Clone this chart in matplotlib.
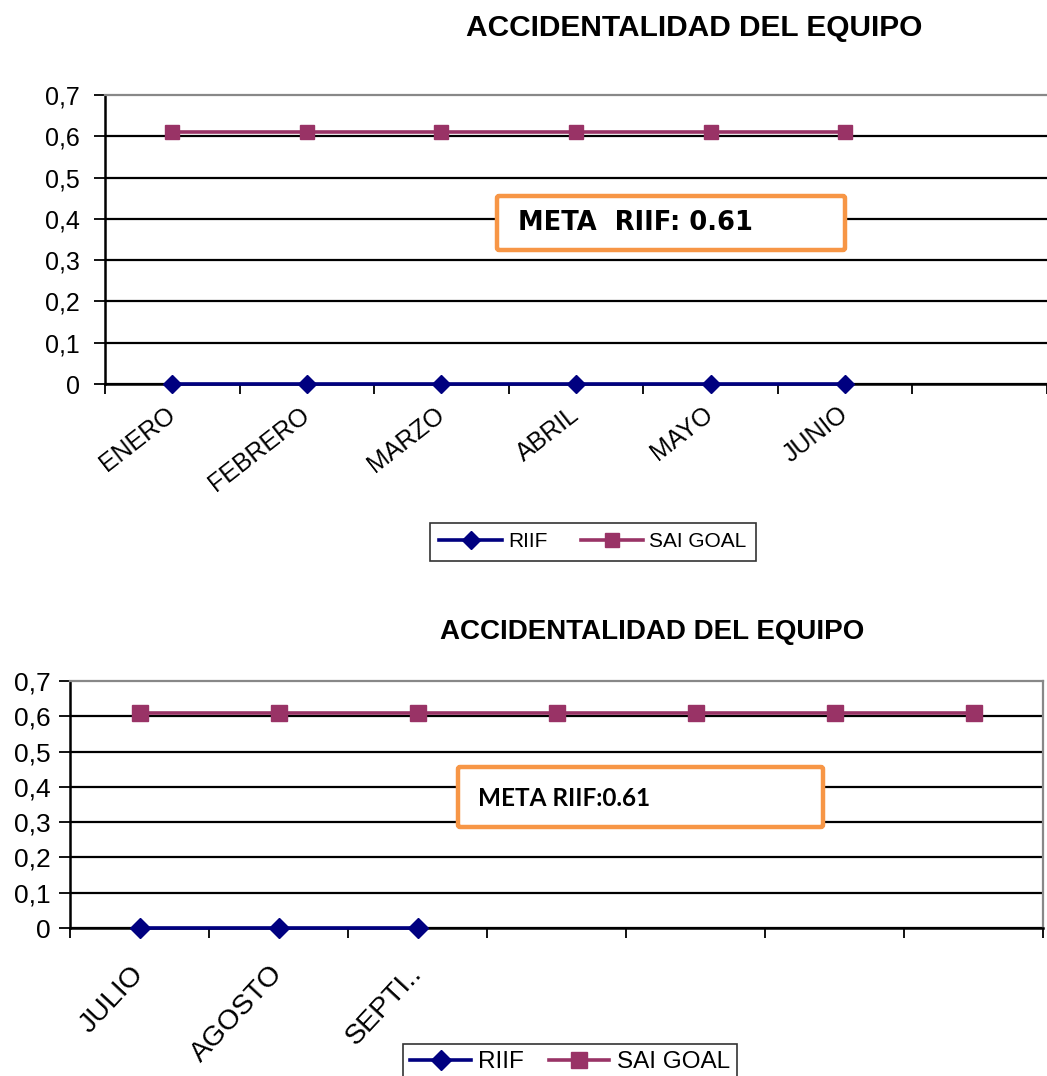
import matplotlib
matplotlib.use("Agg")
import matplotlib.pyplot as plt
from matplotlib.patches import FancyBboxPatch
import numpy as np

plt.rcParams["font.family"] = ["Liberation Sans", "DejaVu Sans"]

# ---------------------------------------------------------------------------
# Data
# ---------------------------------------------------------------------------
TITLE = "ACCIDENTALIDAD DEL EQUIPO"

MONTHS_H1 = ["ENERO", "FEBRERO", "MARZO", "ABRIL", "MAYO", "JUNIO", ""]
RIIF_H1 = [0, 0, 0, 0, 0, 0]
GOAL_H1 = [0.61, 0.61, 0.61, 0.61, 0.61, 0.61]

MONTHS_H2 = ["JULIO", "AGOSTO", "SEPTI..", "", "", "", ""]
RIIF_H2 = [0, 0, 0]
GOAL_H2 = [0.61, 0.61, 0.61, 0.61, 0.61, 0.61, 0.61]

Y_TICKS = [0, 0.1, 0.2, 0.3, 0.4, 0.5, 0.6, 0.7]
Y_LABELS = ["0", "0,1", "0,2", "0,3", "0,4", "0,5", "0,6", "0,7"]

META_H1 = "META  RIIF: 0.61"
META_H2 = "META RIIF:0.61"

NAVY = "#000080"
PLUM = "#993366"
ORANGE = "#F79646"

W, H = 1047, 1076


def px_box(x0, y0, x1, y1):
    """Pixel box (top-left origin) -> figure fraction rect."""
    return [x0 / W, 1 - y1 / H, (x1 - x0) / W, (y1 - y0) / H]


def draw_panel(ax, months, riif, goal, xmax, fs, xfs, rot, pad, ms, ypad):
    n = len(months)
    ax.plot(np.arange(len(goal)), goal, color=PLUM, lw=2.6, marker="s",
            ms=ms, mec=PLUM, label="SAI GOAL", zorder=5, clip_on=False)
    ax.plot(np.arange(len(riif)), riif, color=NAVY, lw=2.6, marker="D",
            ms=ms * 0.9, mec=NAVY, label="RIIF", zorder=6, clip_on=False)

    ax.set_xlim(-0.5, xmax)
    ax.set_ylim(0, 0.7)
    ax.set_yticks(Y_TICKS)
    ax.set_yticklabels(Y_LABELS, fontsize=fs)
    ax.set_xticks(np.arange(n))
    ax.set_xticklabels(months, fontsize=xfs, rotation=rot, ha="right",
                       va="center", rotation_mode="anchor")
    ax.set_xticks(np.arange(n + 1) - 0.5, minor=True)
    ax.tick_params(axis="x", which="major", length=0, pad=pad)
    ax.tick_params(axis="x", which="minor", length=7, width=1.3,
                   direction="out", color="black")
    ax.tick_params(axis="y", length=8, width=1.3, color="black", pad=ypad)

    ax.yaxis.grid(True, color="black", lw=1.6, zorder=1)
    ax.get_ygridlines()[-1].set_visible(False)
    ax.set_axisbelow(True)

    ax.spines["left"].set_linewidth(1.8)
    ax.spines["bottom"].set_linewidth(1.8)
    ax.spines["top"].set_color("#888888")
    ax.spines["top"].set_linewidth(1.6)
    ax.spines["right"].set_color("#888888")
    ax.spines["right"].set_linewidth(1.6)


def meta_box(fig, rect, text, tx, ty, fs, family):
    x0, y0, x1, y1 = rect
    box = FancyBboxPatch((x0 / W, 1 - y1 / H), (x1 - x0) / W, (y1 - y0) / H,
                         boxstyle="round,pad=0,rounding_size=0.002",
                         transform=fig.transFigure, facecolor="white",
                         edgecolor=ORANGE, lw=3.2, zorder=10)
    fig.patches.append(box)
    fig.text(tx / W, 1 - ty / H, text, fontsize=fs, fontweight="bold",
             family=family, ha="left", va="center", zorder=11)


fig = plt.figure(figsize=(W / 100, H / 100), dpi=100)

# first half of the year
ax1 = fig.add_axes(px_box(105, 95, 1047, 384))
draw_panel(ax1, MONTHS_H1, RIIF_H1, GOAL_H1, (1047 - 173) / 136.0,
           fs=18, xfs=18, rot=38, pad=20, ms=10.5, ypad=10)
ax1.spines["right"].set_visible(False)
fig.text(694 / W, 1 - 28 / H, TITLE, fontsize=21.5, fontweight="bold",
         ha="center", va="center")
meta_box(fig, (497, 196, 845, 250), META_H1, 518, 223, 18.5,
         ["DejaVu Sans"])
h, l = ax1.get_legend_handles_labels()
fig.legend(h[::-1], l[::-1], loc="upper center", ncol=2, fontsize=15,
           bbox_to_anchor=(593 / W, 1 - 523 / H), frameon=True,
           fancybox=False, edgecolor="black", handlelength=3.0,
           columnspacing=1.6, handletextpad=0.3, numpoints=1,
           borderpad=0.45, borderaxespad=0).get_frame().set_linewidth(1.2)

# second half of the year
ax2 = fig.add_axes(px_box(70, 681, 1043, 928))
draw_panel(ax2, MONTHS_H2, RIIF_H2, GOAL_H2, 6.5,
           fs=19, xfs=20.5, rot=47, pad=30, ms=11, ypad=6)
fig.text(652 / W, 1 - 632 / H, TITLE, fontsize=20, fontweight="bold",
         ha="center", va="center")
meta_box(fig, (458, 767, 823, 827), META_H2, 478, 798, 17.5,
         ["Lato", "DejaVu Sans"])
h, l = ax2.get_legend_handles_labels()
fig.legend(h[::-1], l[::-1], loc="upper center", ncol=2, fontsize=17.5,
           bbox_to_anchor=(570 / W, 1 - 1044 / H), frameon=True,
           fancybox=False, edgecolor="black", handlelength=2.5,
           columnspacing=1.0, handletextpad=0.3, numpoints=1,
           borderpad=0.3, borderaxespad=0).get_frame().set_linewidth(1.2)

fig.savefig("out.png", dpi=100, facecolor="white")
